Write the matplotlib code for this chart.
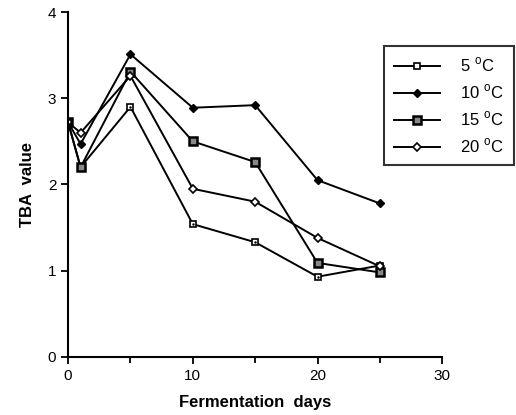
import matplotlib.pyplot as plt
import numpy as np

plt.rcParams['font.family'] = ['Liberation Sans', 'DejaVu Sans']
plt.rcParams['mathtext.fontset'] = 'custom'
plt.rcParams['mathtext.rm'] = 'Liberation Sans'

days = [0, 1, 5, 10, 15, 20, 25]
tba_5 = [2.72, 2.2, 2.9, 1.54, 1.33, 0.93, 1.06]
tba_10 = [2.72, 2.47, 3.51, 2.89, 2.92, 2.05, 1.78]
tba_15 = [2.72, 2.2, 3.31, 2.5, 2.26, 1.09, 0.98]
tba_20 = [2.72, 2.6, 3.26, 1.95, 1.8, 1.38, 1.05]
labels = ['5 $^{\\mathrm{o}}$C', '10 $^{\\mathrm{o}}$C', '15 $^{\\mathrm{o}}$C', '20 $^{\\mathrm{o}}$C']

fig = plt.figure(figsize=(5.16, 4.15), dpi=100)
ax = fig.add_axes([0.132, 0.140, 0.725, 0.831])

# open square with a dot
ax.plot(days, tba_5, '-', color='k', lw=1.4, marker='s', ms=5, mfc='white', mec='k', mew=1.2, label=labels[0])
ax.plot(days, tba_5, ' ', marker='.', ms=1.5, color='k')
# small filled diamond
ax.plot(days, tba_10, '-', color='k', lw=1.4, marker='D', ms=4.5, mfc='k', mec='k', label=labels[1])
# heavy square
ax.plot(days, tba_15, '-', color='k', lw=1.4, marker='s', ms=6, mfc='#888888', mec='k', mew=1.8, label=labels[2])
# open diamond
ax.plot(days, tba_20, '-', color='k', lw=1.4, marker='D', ms=4.5, mfc='white', mec='k', mew=1.2, label=labels[3])

ax.set_xlim(0, 30)
ax.set_ylim(0, 4)
ax.set_xticks([0, 10, 20, 30])
ax.set_xticks([5, 15, 25], minor=True)
ax.set_yticks([0, 1, 2, 3, 4])
ax.spines['top'].set_visible(False)
ax.spines['right'].set_visible(False)
ax.spines['left'].set_linewidth(1.5)
ax.spines['bottom'].set_linewidth(1.5)
ax.tick_params(which='both', direction='out', width=1.3, labelsize=11)
ax.tick_params(which='major', length=5)
ax.tick_params(which='minor', length=4)
ax.set_xlabel('Fermentation  days', fontsize=12, fontweight='bold', labelpad=9)
ax.set_ylabel('TBA  value', fontsize=12, fontweight='bold', labelpad=9)

leg = ax.legend(loc='upper right', bbox_to_anchor=(0.996, 0.89), bbox_transform=fig.transFigure,
                borderaxespad=0, frameon=True, fancybox=False, edgecolor='k', fontsize=12,
                handlelength=2.8, handletextpad=1.2, labelspacing=0.5, borderpad=0.6)
leg.get_frame().set_linewidth(1.5)

fig.savefig('out.png', dpi=100)
